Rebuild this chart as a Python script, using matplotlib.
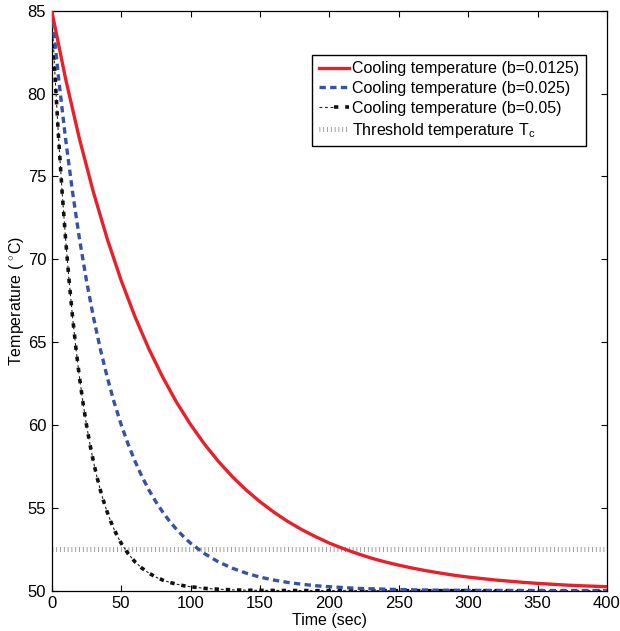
#!/usr/bin/env python3
"""Cooling temperature curves for three cooling rates b, with threshold Tc"""
import matplotlib.pyplot as plt
from matplotlib.legend_handler import HandlerTuple

plt.rcParams['font.family'] = ['Liberation Sans', 'DejaVu Sans']
plt.rcParams['mathtext.fontset'] = 'custom'
plt.rcParams['mathtext.rm'] = 'Liberation Sans'
plt.rcParams['mathtext.it'] = 'Liberation Sans'

# b = 0.0125
t_slow = [0, 10, 20, 30, 40, 50, 60, 70, 80, 90, 100, 110, 120, 130, 140, 150,
          160, 170, 180, 190, 200, 210, 220, 230, 240, 250, 260, 270, 280, 290,
          300, 310, 320, 330, 340, 350, 360, 370, 380, 390, 400]
T_slow = [85.00, 80.89, 77.26, 74.06, 71.23, 68.73, 66.53, 64.59, 62.88, 61.36,
          60.03, 58.85, 57.81, 56.89, 56.08, 55.37, 54.74, 54.18, 53.69, 53.26,
          52.87, 52.54, 52.24, 51.97, 51.74, 51.54, 51.36, 51.20, 51.06, 50.93,
          50.82, 50.73, 50.64, 50.57, 50.50, 50.44, 50.39, 50.34, 50.30, 50.27,
          50.24]

# b = 0.025 (blue dashed)
t_mid = [0, 5, 10, 15, 20, 25, 30, 35, 40, 45, 50, 55, 60, 65, 70, 75, 80, 85,
         90, 95, 100, 110, 120, 130, 140, 150, 160, 170, 180, 190, 200, 220,
         240, 260, 280, 300, 330, 360, 400]
T_mid = [85.00, 80.89, 77.26, 74.06, 71.23, 68.73, 66.53, 64.59, 62.88, 61.36,
         60.03, 58.85, 57.81, 56.89, 56.08, 55.37, 54.74, 54.18, 53.69, 53.26,
         52.87, 52.24, 51.74, 51.36, 51.06, 50.82, 50.64, 50.50, 50.39, 50.30,
         50.24, 50.14, 50.09, 50.05, 50.03, 50.02, 50.01, 50.00, 50.00]

# b = 0.05 (black dash-dot)
t_fast = [0, 2.5, 5, 7.5, 10, 12.5, 15, 17.5, 20, 22.5, 25, 27.5, 30, 32.5, 35,
          37.5, 40, 42.5, 45, 47.5, 50, 55, 60, 65, 70, 75, 80, 85, 90, 95,
          100, 110, 120, 130, 140, 150, 170, 200, 400]
T_fast = [85.00, 80.89, 77.26, 74.06, 71.23, 68.73, 66.53, 64.59, 62.88, 61.36,
          60.03, 58.85, 57.81, 56.89, 56.08, 55.37, 54.74, 54.18, 53.69, 53.26,
          52.87, 52.24, 51.74, 51.36, 51.06, 50.82, 50.64, 50.50, 50.39, 50.30,
          50.24, 50.14, 50.09, 50.05, 50.03, 50.02, 50.01, 50.00, 50.00]

# threshold temperature Tc
t_thr = [0, 400]
T_thr = [52.5, 52.5]

labels = ['Cooling temperature (b=0.0125)', 'Cooling temperature (b=0.025)',
          'Cooling temperature (b=0.05)', 'Threshold temperature T$_{\\mathrm{c}}$']

fs = 11.5
fig = plt.figure(figsize=(6.2, 6.31), dpi=100)
ax = fig.add_axes([0.0834, 0.0639, 0.8956, 0.9192])

thr, = ax.plot(t_thr, T_thr, color='#8a8a8a', lw=3.6,
               ls=(0, (0.16, 0.6)), dash_capstyle='butt', zorder=1)
red, = ax.plot(t_slow, T_slow, color='#e8202a', lw=2.4, zorder=4)
blue, = ax.plot(t_mid, T_mid, color='#3552a6', lw=2.4, ls=(0, (1.9, 1.3)),
                dash_capstyle='butt', zorder=3)
blk_thin, = ax.plot(t_fast, T_fast, color='#222222', lw=0.8, ls=(0, (2.5, 2.5)),
                    zorder=2)
blk_thick, = ax.plot(t_fast, T_fast, color='#111111', lw=2.6,
                     ls=(0, (1.2, 1.9)), dash_capstyle='butt', zorder=2)

ax.set_xlim(0, 400)
ax.set_ylim(50, 85)
ax.set_xticks(range(0, 401, 50))
ax.set_yticks(range(50, 86, 5))
ax.tick_params(direction='in', length=4, width=0.8, top=True, right=True,
               labelsize=12, pad=4)
for s in ax.spines.values():
    s.set_linewidth(0.9)

ax.set_xlabel('Time (sec)', fontsize=fs, labelpad=1)
ax.set_ylabel('Temperature ( $^{\\circ}$C)', fontsize=fs, labelpad=1)

leg = ax.legend([red, blue, (blk_thin, blk_thick), thr], labels,
                handler_map={tuple: HandlerTuple(ndivide=None, pad=0)},
                loc='upper right', bbox_to_anchor=(0.945, 0.913),
                bbox_transform=fig.transFigure, borderaxespad=0,
                fontsize=fs, handlelength=1.9, handletextpad=0.2,
                borderpad=0.4, labelspacing=0.3, fancybox=False,
                framealpha=1, edgecolor='black')
leg.get_frame().set_linewidth(1.0)

plt.savefig('out.png', dpi=100)
print('Saved: out.png')
